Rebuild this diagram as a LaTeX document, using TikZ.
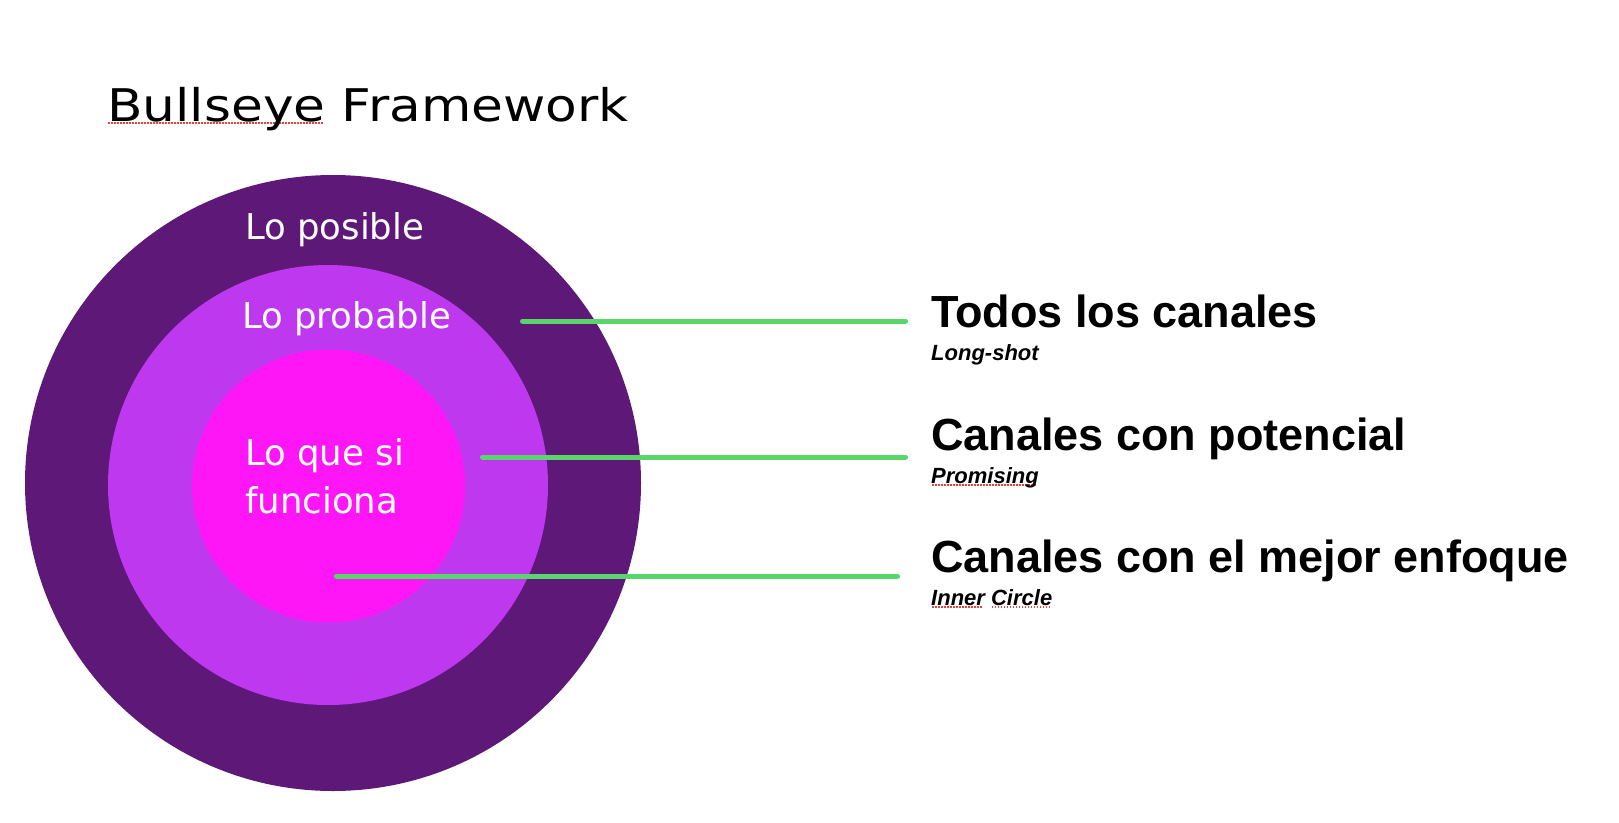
\documentclass[tikz,border=0pt]{standalone}
\usepackage{fontspec}
\setmainfont{Liberation Sans}
\newfontfamily\chalk{DejaVu Sans}
\newfontfamily\chalkwide{DejaVu Sans}[FakeStretch=1.15]
\usetikzlibrary{positioning}
\definecolor{ringout}{RGB}{94,24,120}
\definecolor{ringmid}{RGB}{190,56,240}
\definecolor{ringin}{RGB}{255,22,246}
\definecolor{linkgreen}{RGB}{88,214,108}
\definecolor{spellred}{RGB}{232,64,58}
% red dotted mark under a word
\newcommand\spellmark[1]{\leavevmode\setbox0\hbox{#1}\rlap{\color{spellred}\hbox to\wd0{\leaders\hbox to 3pt{\hss\rule[-2.5pt]{1.6pt}{1.6pt}\hss}\hfill}}\box0\relax}
\tikzset{
    %Define style for the rings
    ring/.style={
           circle,
           inner sep=0pt,
           draw=none},
    %Define style for the chalk labels
    chalklabel/.style={
           text=white,
           inner sep=0pt,
           anchor=base west,
           font=\chalk\fontsize{35.5}{42}\selectfont},
    %Define style for headings and notes
    heading/.style={
           inner sep=0pt,
           anchor=base west,
           font=\bfseries\fontsize{45}{52}\selectfont},
    note/.style={
           inner sep=0pt,
           anchor=base west,
           font=\bfseries\itshape\fontsize{22}{26}\selectfont},
    % Define line style
    link/.style={
           draw=linkgreen,
           line width=5pt,
           line cap=round,
           shorten >=25.5pt}
}
\begin{document}
\begin{tikzpicture}[x=1pt,y=-1pt]
  \useasboundingbox (0,0) rectangle (1619,822);

  \node[inner sep=0pt, anchor=base west, font=\chalkwide\fontsize{45}{54}\selectfont] (title) at (107,121) {\spellmark{Bullseye} Framework};

  \node[ring, fill=ringout, minimum size=616pt] (possible) at (333,483) {};
  \node[ring, fill=ringmid, minimum size=440pt] (probable) at (328,485) {};
  \node[ring, fill=ringin, minimum size=273pt] (works) at (328.5,486) {};

  \node[chalklabel] (possible-lbl) at (245,239) {Lo posible};
  \node[chalklabel] (probable-lbl) at (242,328) {Lo probable};
  \node[chalklabel] (works-lbl) at (245,465) {Lo que si};
  \node[chalklabel, below=48pt of works-lbl.base west, anchor=base west] (works-lbl2) {funciona};

  \node[heading] (todos) at (931,327) {Todos los canales};
  \node[note, below=33pt of todos.base west, anchor=base west] (longshot) {Long-shot};
  \node[heading, below=123pt of todos.base west, anchor=base west] (potencial) {Canales con potencial};
  \node[note, below=33pt of potencial.base west, anchor=base west] (promising) {\spellmark{Promising}};
  \node[heading, below=122pt of potencial.base west, anchor=base west] (enfoque) {Canales con el mejor enfoque};
  \node[note, below=33pt of enfoque.base west, anchor=base west] (inner) {\spellmark{Inner} \spellmark{Circle}};

  \coordinate (p-todos) at (522.5,321);
  \coordinate (p-potencial) at (482.5,457);
  \coordinate (p-enfoque) at (336.5,576);

  \draw[link] (p-todos) -- (todos.west |- p-todos);
  \draw[link] (p-potencial) -- (potencial.west |- p-potencial);
  \draw[link, shorten >=33.5pt] (p-enfoque) -- (enfoque.west |- p-enfoque);
\end{tikzpicture}
\end{document}
